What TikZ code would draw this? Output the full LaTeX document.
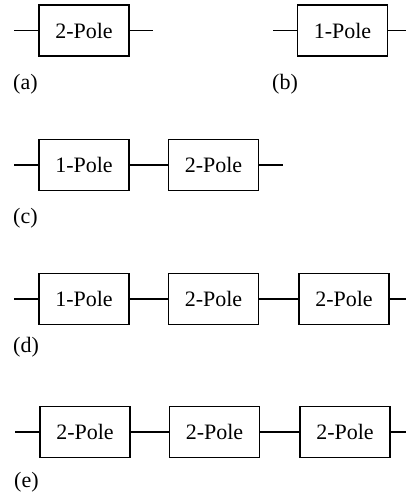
\documentclass[tikz,border=0pt]{standalone}
\usepackage{fontspec}
\setmainfont{Liberation Serif}
\begin{document}
\begin{tikzpicture}[x=1pt,y=-1pt,
  polebox/.style={draw,line width=1.9pt,minimum width=90pt,minimum height=51pt,inner sep=0pt,font=\fontsize{22}{26}\selectfont},
  wire/.style={line width=1.5pt},
  sublabel/.style={anchor=west,inner sep=0pt,font=\fontsize{22}{26}\selectfont}]
\useasboundingbox (0,0) rectangle (406,497);
% (a)
\node[polebox] (a1) at (84,30.5) {2-Pole};
\coordinate (aL) at (14,30.5);
\coordinate (aR) at (153,30.5);
\draw[wire] (aL) -- (a1.west);
\draw[wire] (a1.east) -- (aR);
\node[sublabel] (la) at (13,84) {(a)};
% (b)
\node[polebox] (b1) at (342.5,30.5) {1-Pole};
\coordinate (bL) at (273,30.5);
\coordinate (bR) at (406,30.5);
\draw[wire] (bL) -- (b1.west);
\draw[wire] (b1.east) -- (bR);
\node[sublabel] (lb) at (272,84) {(b)};
% (c)
\node[polebox] (c1) at (84,165) {1-Pole};
\node[polebox] (c2) at (213.5,165) {2-Pole};
\coordinate (cL) at (14,165);
\coordinate (cR) at (283,165);
\draw[wire] (cL) -- (c1.west);
\draw[wire] (c1.east) -- (c2.west);
\draw[wire] (c2.east) -- (cR);
\node[sublabel] (lc) at (13,218) {(c)};
% (d)
\node[polebox] (d1) at (84,299) {1-Pole};
\node[polebox] (d2) at (213.5,299) {2-Pole};
\node[polebox] (d3) at (344,299) {2-Pole};
\coordinate (dL) at (14,299);
\coordinate (dR) at (406,299);
\draw[wire] (dL) -- (d1.west);
\draw[wire] (d1.east) -- (d2.west);
\draw[wire] (d2.east) -- (d3.west);
\draw[wire] (d3.east) -- (dR);
\node[sublabel] (ld) at (13,347) {(d)};
% (e)
\node[polebox] (e1) at (85,432) {2-Pole};
\node[polebox] (e2) at (214.5,432) {2-Pole};
\node[polebox] (e3) at (345,432) {2-Pole};
\coordinate (eL) at (15,432);
\coordinate (eR) at (406,432);
\draw[wire] (eL) -- (e1.west);
\draw[wire] (e1.east) -- (e2.west);
\draw[wire] (e2.east) -- (e3.west);
\draw[wire] (e3.east) -- (eR);
\node[sublabel] (le) at (14,482) {(e)};
\end{tikzpicture}
\end{document}
